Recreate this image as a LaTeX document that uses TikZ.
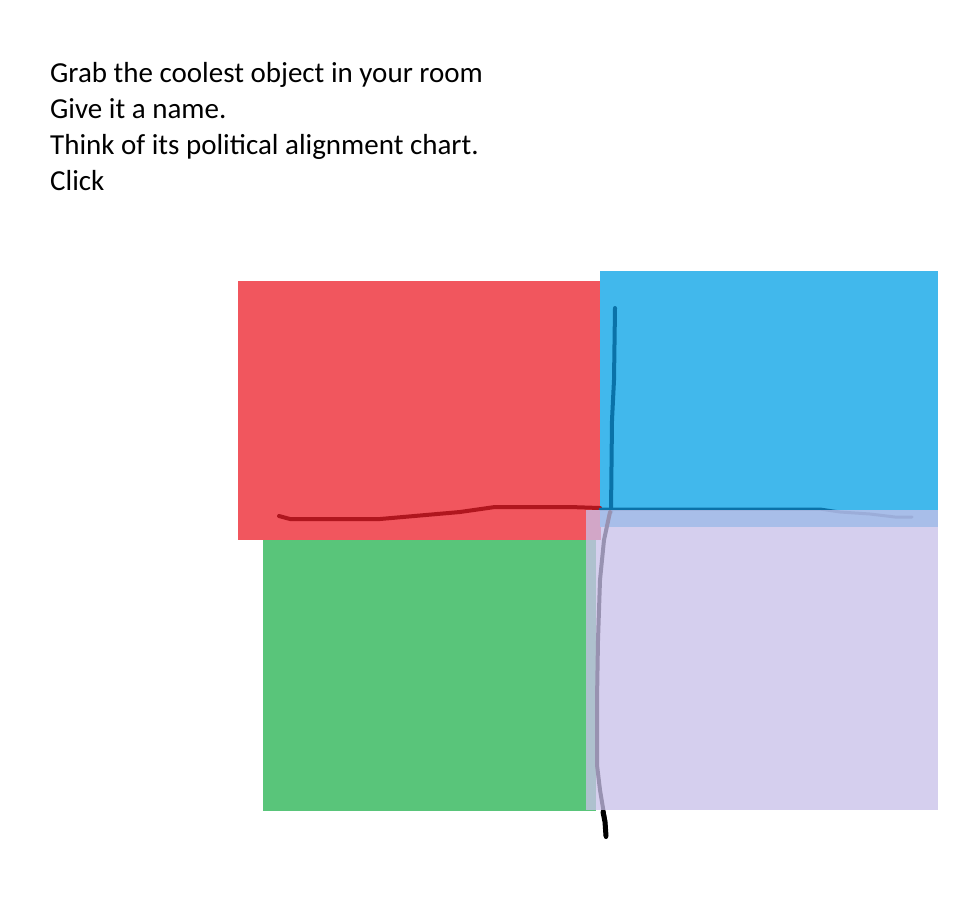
\documentclass[tikz,border=0pt]{standalone}
\usepackage{fontspec}
\setmainfont{Carlito}
\definecolor{redq}{HTML}{F1565E}
\definecolor{blueq}{HTML}{41B8EC}
\definecolor{greenq}{HTML}{59C57A}
\definecolor{lavq}{RGB}{201,192,233}
\definecolor{redline}{HTML}{B0161E}
\definecolor{blueline}{HTML}{0A72A8}
\begin{document}
\begin{tikzpicture}[x=1pt,y=-1pt,
  stroke/.style={line width=4pt,line cap=round,line join=round},
  txt/.style={anchor=base west,inner sep=0pt,font=\fontsize{29}{36}\selectfont}]
\useasboundingbox (0,0) rectangle (968,922);
\fill[white] (0,0) rectangle (968,922);
\node[txt] (t1) at (50,82.7) {Grab the coolest object in your room};
\node[txt] (t2) at (50,118.7) {Give it a name.};
\node[txt] (t3) at (50,154.7) {Think of its political alignment chart.};
\node[txt] (t4) at (50,190.7) {Click};
% quadrants
\fill[redq] (238,281) rectangle (601,540);
\fill[blueq] (600,271) rectangle (938,527);
\fill[greenq] (263,540) rectangle (596,811);
% hand-drawn lines
\draw[redline,stroke]
  (279,516) -- (290,519) -- (380,519) -- (460,512) -- (495,507) -- (570,507) -- (600,508);
\draw[blueline,stroke]
  (615,308) -- (614,380) -- (612,420) -- (611,512);
\draw[blueline,stroke,line width=3pt]
  (600,509) -- (680,509) -- (820,509) -- (840,512) -- (870,514) -- (895,517) -- (912,517);
\draw[black,stroke]
  (610,512) -- (604,540) -- (600,580) -- (598,640) -- (597,700) -- (597,765) -- (600,790) -- (603,808) -- (605,820) -- (606,837);
\draw[black,stroke,line width=5pt] (603,812) -- (605,822) -- (606,836);
% translucent lavender quadrant
\fill[lavq,opacity=0.76] (586,510) rectangle (938,810);
\end{tikzpicture}
\end{document}
